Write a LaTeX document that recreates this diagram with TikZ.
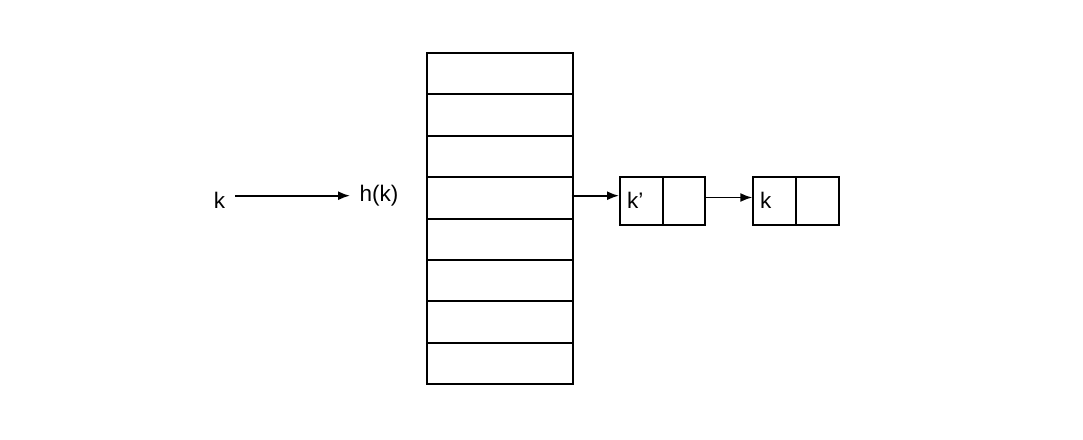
\documentclass[tikz,border=0pt]{standalone}
\usepackage{fontspec}
\setmainfont{Liberation Sans}
\usetikzlibrary{arrows.meta}
\begin{document}
\begin{tikzpicture}[x=1pt,y=-1pt,
  cell/.style={draw, line width=2pt, minimum width=145.7pt, minimum height=41.45pt, inner sep=0pt, anchor=north west},
  half/.style={draw, line width=2pt, minimum width=42.7pt, minimum height=48.3pt, inner sep=0pt, anchor=north west},
  lbl/.style={font=\fontsize{22.5}{25}\selectfont, inner sep=0pt},
  arr/.style={line width=1.7pt, -{Latex[length=12pt,width=9pt]}}]
\useasboundingbox (0,0) rectangle (1083,439);
\foreach \i in {1,...,8} {
  \node[cell] (r\i) at (426, {51.7+(\i-1)*41.45}) {};
}
\node[half] (a1) at (619,176) {};
\node[half] (a2) at (661.7,176) {};
\node[half] (b1) at (752.3,176) {};
\node[half] (b2) at (795,176) {};
\node[lbl, anchor=west] (ka) at (627,200) {k’};
\node[lbl, anchor=west] (kb) at (760,200) {k};
\node[lbl] (k) at (219.5,200) {k};
\node[lbl] (hk) at (379,196) {h(k)};
\coordinate (ks) at (235,195.7);
\coordinate (ke) at (350,195.7);
\draw[arr] (ks) -- (ke);
\coordinate (rs) at (571.7,195.7);
\draw[arr] (rs) -- (rs -| a1.west);
\coordinate (as) at (704.3,197.5);
\draw[arr] (as) -- (as -| b1.west);
\end{tikzpicture}
\end{document}
